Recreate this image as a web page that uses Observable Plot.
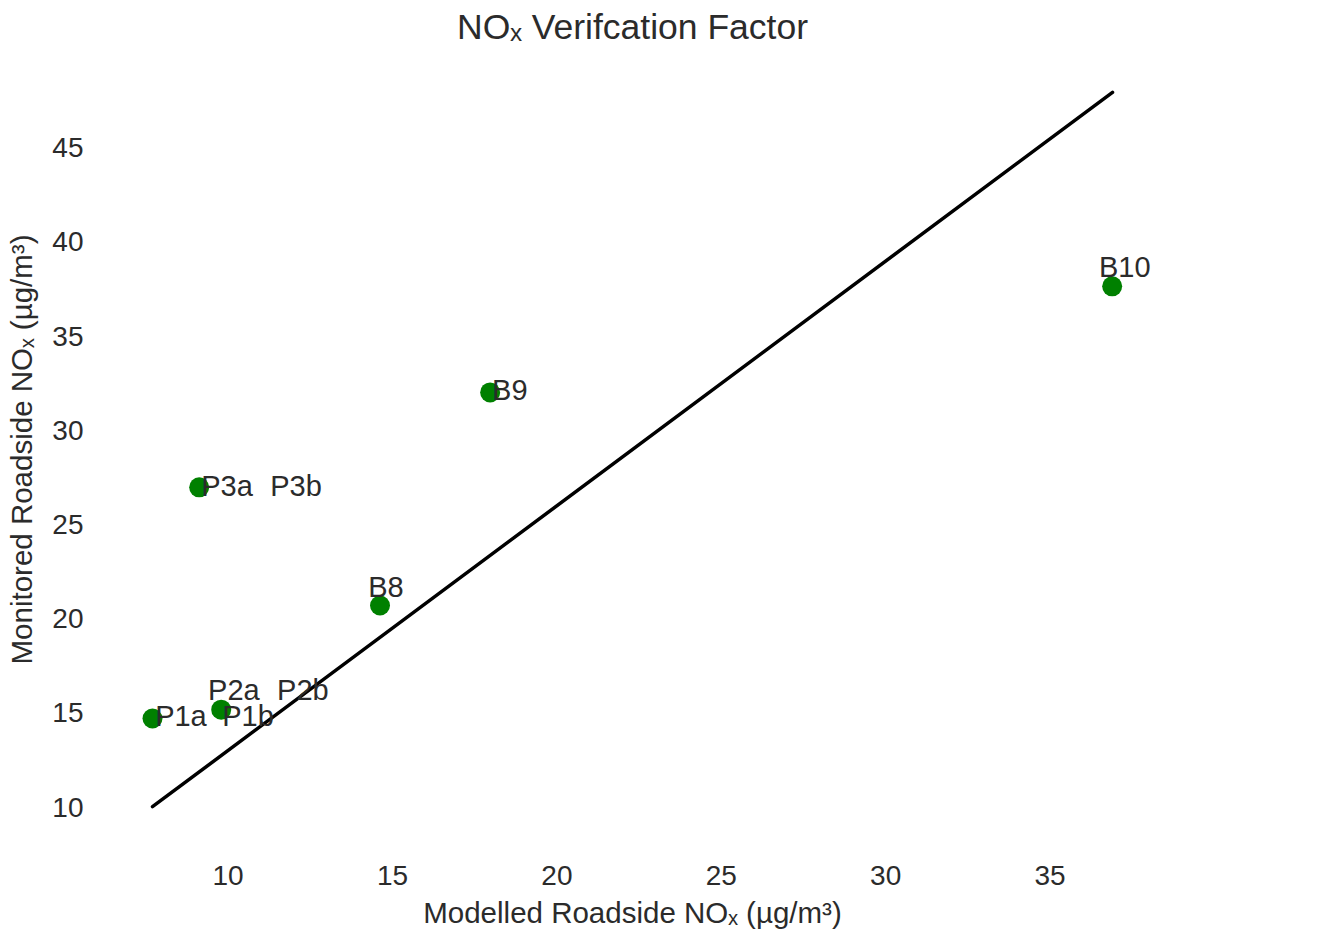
<!DOCTYPE html>
<html><head><meta charset="utf-8">
<script src="https://cdn.jsdelivr.net/npm/d3@7"></script>
<script src="https://cdn.jsdelivr.net/npm/@observablehq/plot@0.6"></script>
<style>body{margin:0;background:#fff}</style>
</head><body><div id="chart"></div>
<script>
// Points (modelled vs monitored roadside NOx)
const pointNames = ["P1a", "P2a/P1b", "P3a", "B8", "B9", "B10"];
const modelled  = [7.70, 9.79, 9.12, 14.62, 17.97, 36.89];
const monitored = [14.73, 15.20, 27.00, 20.73, 32.04, 37.67];

// Site labels (text and anchor position in data units)
const labelText = ["P1a", "P1b", "P2a", "P2b", "P3a", "P3b", "B8", "B9", "B10"];
const labelX    = [7.78, 9.82, 9.39, 11.49, 9.18, 11.28, 14.26, 18.03, 36.49];
const labelY    = [14.83, 14.83, 16.21, 16.21, 27.05, 27.05, 21.68, 32.15, 38.68];

// Verification line
const lineX = [7.70, 36.90];
const lineY = [10.05, 47.97];

// Ticks
const xTicks = [10, 15, 20, 25, 30, 35];
const yTicks = [10, 15, 20, 25, 30, 35, 40, 45];

const title = "NOₓ Verifcation Factor";
const xLabel = "Modelled Roadside NOₓ (µg/m³)";
const yLabel = "Monitored Roadside NOₓ (µg/m³)";

const points = pointNames.map((n, i) => ({name: n, x: modelled[i], y: monitored[i]}));
const labels = labelText.map((t, i) => ({text: t, x: labelX[i], y: labelY[i]}));
const line = lineX.map((x, i) => ({x, y: lineY[i]}));

const textColor = "#2b2b2b";

const chart = Plot.plot({
  width: 1338,
  height: 932,
  marginLeft: 104,
  marginRight: 178,
  marginTop: 56,
  marginBottom: 90,
  style: {fontFamily: "'Liberation Sans', Arial, sans-serif", fontSize: "28px", color: textColor, background: "#fff"},
  x: {domain: [6.24, 38.36]},
  y: {domain: [8.15, 49.87]},
  marks: [
    Plot.axisX({ticks: xTicks, tickSize: 0, tickPadding: 23, fontSize: 28, label: null, fill: textColor}),
    Plot.axisY({ticks: yTicks, tickSize: 0, tickPadding: 21, fontSize: 28, label: null, fill: textColor}),
    Plot.line(line, {x: "x", y: "y", stroke: "black", strokeWidth: 3.5}),
    Plot.dot(points, {x: "x", y: "y", r: 10, fill: "#008000", stroke: "none"}),
    Plot.text(labels, {x: "x", y: "y", text: "text", textAnchor: "start", lineAnchor: "middle", fontSize: 29, fill: textColor}),
    Plot.text([title], {frameAnchor: "top", dy: -29, textAnchor: "middle", lineAnchor: "middle", fontSize: 35.5, fill: textColor}),
    Plot.text([xLabel], {frameAnchor: "bottom", dy: 71, textAnchor: "middle", lineAnchor: "middle", fontSize: 29.5, fill: textColor}),
    Plot.text([yLabel], {frameAnchor: "left", dx: -82, rotate: -90, textAnchor: "middle", lineAnchor: "middle", fontSize: 29.5, fill: textColor})
  ]
});
document.getElementById("chart").appendChild(chart);
</script>
</body></html>
